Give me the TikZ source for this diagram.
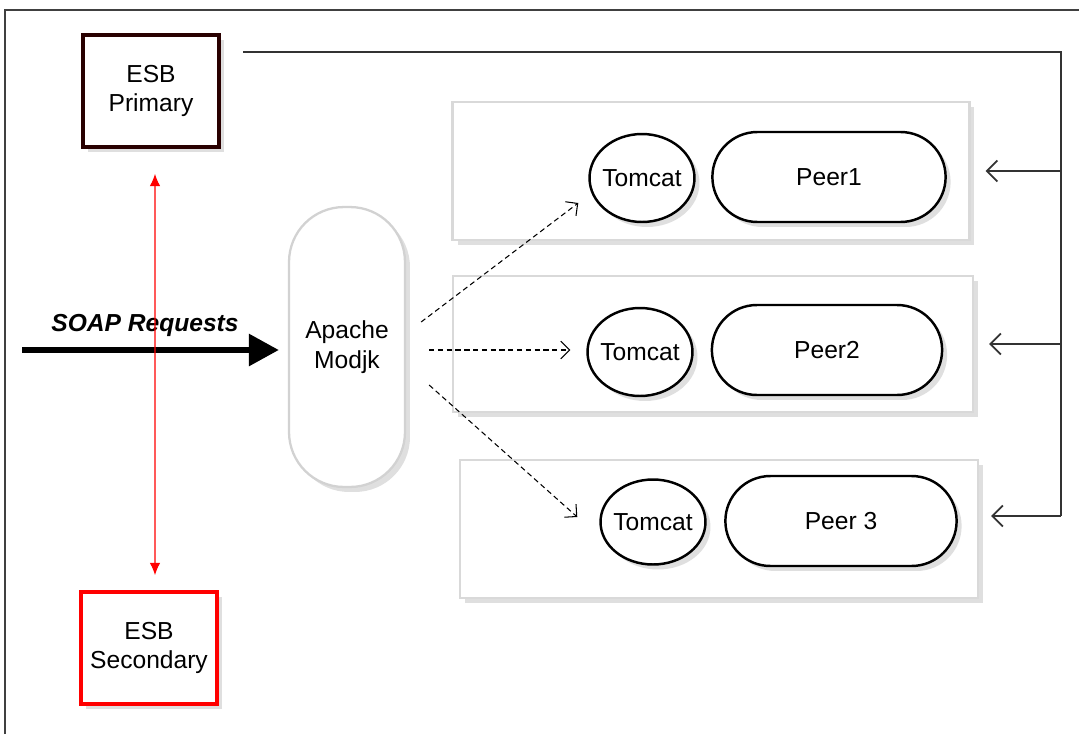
\documentclass[tikz,border=0pt]{standalone}
\usepackage{fontspec}
\setmainfont{Liberation Sans}
\usetikzlibrary{shapes.geometric,shapes.misc,shadows,arrows.meta}

\tikzset{
 txt/.style={font=\fontsize{14}{17}\selectfont},
 softshadow/.style={drop shadow={opacity=.25,shadow xshift=.1cm,shadow yshift=-.1cm}},
 esbbox/.style={txt, draw, line width=2pt, fill=white, align=center,
   minimum width=2.72cm, minimum height=2.24cm, softshadow},
 grpbox/.style={draw=gray!30, line width=1.3pt, fill=white, softshadow},
 modbox/.style={txt, draw=gray!35, line width=1.3pt, fill=white, align=center,
   rounded corners=1.1cm, minimum width=2.32cm, minimum height=5.6cm, softshadow},
 tombox/.style={txt, ellipse, draw, line width=1.4pt, fill=white, inner xsep=-2mm,
   inner ysep=0pt, minimum width=2.1cm, minimum height=1.76cm, softshadow},
 peerbox/.style={txt, rounded rectangle, draw, line width=1.4pt, fill=white,
   minimum width=4.86cm, minimum height=1.8cm, softshadow},
 dasharr/.style={densely dashed, line width=.6pt, -{Straight Barb[length=5pt]}},
 busline/.style={draw=black!80, line width=1pt},
 busarr/.style={busline, -{Straight Barb[length=6pt]}, shorten >=.3cm},
 redarr/.style={red, line width=.8pt, {Latex[length=7pt,width=6pt]}-{Latex[length=7pt,width=6pt]}},
 soaparr/.style={line width=3.4pt, -{Triangle[length=.6cm,width=.62cm]}, shorten >=.18cm}
}

\begin{document}
\begin{tikzpicture}[x=0.02cm,y=-0.02cm]
 \useasboundingbox (0,0) rectangle (1079,734);
 \draw[black!75, line width=.9pt] (5,734) -- (5,10) -- (1079,10);

 % peer groups
 \node[grpbox, minimum width=10.34cm, minimum height=2.76cm] (grp1) at (711,171) {};
 \node[grpbox, minimum width=10.4cm, minimum height=2.72cm] (grp2) at (713,344) {};
 \node[grpbox, minimum width=10.36cm, minimum height=2.76cm] (grp3) at (719,529) {};

 \node[tombox] (tom1) at (642,178) {Tomcat};
 \node[tombox] (tom2) at (640,352) {Tomcat};
 \node[tombox, minimum height=1.7cm] (tom3) at (653,522) {Tomcat};
 \node[peerbox, minimum width=4.9cm] (peer1) at (829,177) {Peer1};
 \node[peerbox, minimum width=4.84cm] (peer2) at (827,350) {Peer2};
 \node[peerbox] (peer3) at (841,521) {Peer 3};

 % ESB nodes
 \node[esbbox, draw=black!60!red!40!black] (pri) at (151,91) {ESB\\Primary};
 \node[esbbox, draw=red] (sec) at (149,648) {ESB\\Secondary};

 \node[modbox] (apache) at (347,347) {Apache\\Modjk};

 % requests
 \coordinate (src) at (22,350);
 \draw[soaparr] (src) -- (src -| apache.west);
 \node[txt, font=\fontsize{14}{17}\selectfont\bfseries\itshape] (soaplbl) at (145,325) {SOAP Requests};

 \draw[redarr, shorten <=.5cm, shorten >=.3cm] ([xshift=.08cm]pri.south) -- ([xshift=.12cm]sec.north);

 \draw[dasharr] ([shift={(15,-25)}]apache.east) -- ([shift={(-10,25)}]tom1.west);
 \draw[dasharr] ([shift={(23,3)}]apache.east) -- ([shift={(-16,-2)}]tom2.west);
 \draw[dasharr] ([shift={(23,38)}]apache.east) -- ([shift={(-22,-5)}]tom3.west);

 % bus from primary
 \coordinate (busA) at (243,52);
 \coordinate (busB) at (1061,52);
 \coordinate (busC) at (1061,516);
 \draw[busline] (busA) -- (busB) -- (busC);
 \draw[busarr] (busB |- grp1.east) -- (grp1.east);
 \draw[busarr] (busB |- grp2.east) -- (grp2.east);
 \draw[busarr, shorten >=.24cm] (busC) -- (grp3.east |- busC);
\end{tikzpicture}
\end{document}
